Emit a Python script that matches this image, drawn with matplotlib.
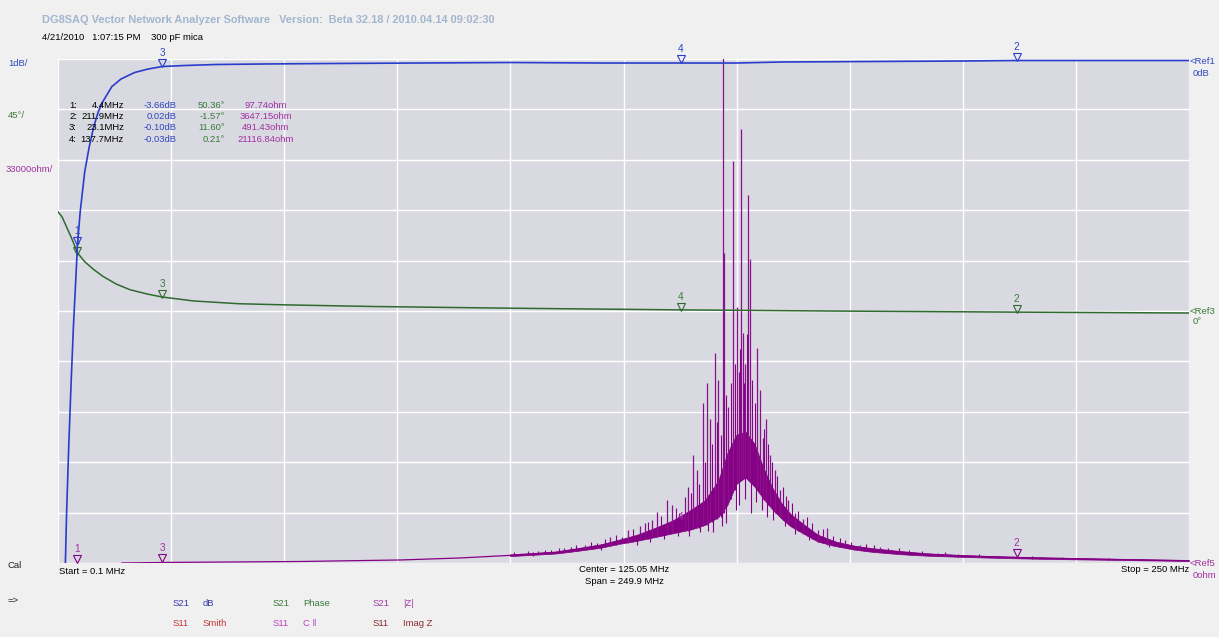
import numpy as np
import matplotlib
matplotlib.use("Agg")
import matplotlib.pyplot as plt
from matplotlib.transforms import offset_copy

plt.rcParams['font.family'] = ['Liberation Sans', 'DejaVu Sans']

# ---------------- data ----------------
# S21 magnitude (dB)
db_freq = [1.65, 2.0, 2.5, 3.0, 3.5, 4.0, 4.4, 5.0, 5.5, 6.0, 7.0, 8.0, 9.0, 10.0, 12.0, 14.0,
           17.0, 20.0, 23.1, 28.0, 35.0, 45.0, 60.0, 80.0, 100.0, 120.0, 137.7, 150.0, 160.0,
           180.0, 200.0, 211.9, 230.0, 250.0]
db_val = [-10.3, -9.0, -7.6, -6.4, -5.3, -4.4, -3.66, -3.0, -2.6, -2.2, -1.7, -1.3, -1.0, -0.8,
          -0.5, -0.35, -0.22, -0.15, -0.10, -0.08, -0.06, -0.05, -0.04, -0.03, -0.02, -0.03,
          -0.03, -0.03, -0.01, 0.0, 0.01, 0.02, 0.02, 0.02]

# S21 phase (deg)
ph_freq = [0.1, 1.0, 2.0, 3.0, 4.4, 6.0, 8.0, 10.0, 13.0, 16.0, 20.0, 23.1, 30.0, 40.0, 50.0,
           70.0, 100.0, 137.7, 170.0, 211.9, 250.0]
ph_val = [88.5, 84.0, 75.0, 66.0, 52.0, 44.0, 37.0, 31.0, 24.0, 19.0, 15.0, 12.5, 9.0, 6.5, 5.5,
          4.0, 2.5, 1.0, 0.0, -1.0, -1.8]

# |Z| centre trace (kOhm)
z_freq = [14.2, 25, 38, 54, 76, 89, 100, 110, 120, 128, 136, 142, 146, 148, 150, 152, 154, 156,
          158, 160, 164, 168, 172, 180, 190, 200, 211.9, 220, 230, 240, 250]
z_kohm = [0.0, 0.4, 0.65, 1.0, 2.0, 3.3, 5.0, 7.0, 11.5, 17, 24, 30, 42, 58, 70, 72, 66, 54,
          44, 36, 25, 17, 13, 8.8, 6.0, 4.6, 3.65, 3.1, 2.5, 2.0, 1.5]

# |Z| dense noise band envelope (kOhm)
band_freq = [100, 110, 115, 120, 124, 128, 132, 136, 140, 143, 146, 148, 150, 152, 154, 156,
             158, 160, 162, 165, 168, 172, 176, 180, 186, 192, 200, 210, 220, 235, 250]
band_lo = [4.5, 6.2, 8.0, 10.0, 12.5, 14.5, 17, 19.5, 22, 25, 30, 38, 52, 56, 50, 42, 35, 29,
           24, 19, 14, 11, 8.8, 7.3, 5.8, 4.8, 4.0, 3.2, 2.6, 2.0, 1.3]
band_hi = [5.6, 7.4, 9.6, 12.2, 15.2, 18.5, 23, 28, 35, 41, 54, 72, 84, 86, 78, 62, 49, 39, 32,
           25, 18.5, 14, 11.3, 9.7, 7.9, 6.4, 5.2, 4.2, 3.5, 2.7, 1.9]

# tall |Z| spikes (kOhm): frequency, bottom, top
spike_freq = [105.0, 112.0, 116.5, 122.1, 126.1, 128.7, 129.8, 131.3, 132.4, 134.7, 135.8,
              138.6, 139.3, 140.4, 141.3, 142.6, 143.5, 144.2, 145.3, 146.0, 147.0, 147.3,
              148.2, 149.2, 150.1, 150.5, 151.0, 151.4, 152.0, 152.6, 153.0, 154.6, 155.2,
              155.9, 156.5, 157.4, 158.5, 159.6, 161.4, 162.9, 164.7, 168.0, 170.0, 174.0,
              177.3, 181.7, 186.0, 196.0]
spike_lo = [4.8, 6.5, 8.5, 11, 13, 15, 16, 17, 17, 19, 19.5, 21, 21, 22, 23, 24, 25, 27, 29,
            30, 33, 33, 40, 48, 52, 54, 55, 56, 56, 55, 54, 50, 46, 42, 40, 37, 33, 30, 26, 22,
            19, 14, 12, 10, 9, 7, 6, 4.5]
spike_hi = [7.0, 9.5, 12.0, 17, 21.6, 24, 26, 28, 33.4, 41.3, 38, 43, 50, 70.7, 61, 105, 118,
            94, 137.5, 120, 335, 203, 102, 263, 167.6, 125, 284, 150.6, 130, 241, 199, 141,
            113, 82, 94, 71, 61, 48, 41, 33, 29, 21.6, 23, 15, 11.8, 10.5, 9.5, 7.0]

# small |Z| noise spikes above the band (kOhm)
fine_freq = [100.8, 102.3, 103.9, 106.2, 107.6, 109.1, 110.7, 113.4, 114.6, 117.8, 119.2, 120.9,
             123.3, 124.8, 127.2, 130.4, 133.3, 136.6, 137.4, 140.0, 141.8, 143.0, 144.6, 145.7,
             146.5, 147.7, 148.7, 149.6, 150.8, 151.7, 152.3, 153.5, 154.1, 156.2, 157.0, 157.8,
             158.9, 160.3, 161.0, 162.2, 163.5, 165.5, 166.6, 169.1, 171.3, 172.8, 175.4, 178.6,
             180.3, 183.4, 188.2, 191.0, 194.5, 199.0, 203.5, 207.8, 215.2, 222.0, 232.0]
fine_lo = [5, 5.3, 5.5, 5.8, 6, 6.2, 6.5, 7.2, 7.8, 9, 9.6, 10.5, 12, 13, 14, 16, 18, 20, 20,
           22, 23, 25, 27, 29, 30, 36, 42, 48, 54, 56, 56, 53, 50, 41, 38, 36, 32, 28, 27, 24,
           21, 18, 16, 13, 11, 10.5, 9, 8, 7.3, 6.7, 5.5, 5, 4.5, 4.0, 3.7, 3.4, 2.9, 2.5, 2.1]
fine_hi = [7.2, 6.8, 8.0, 7.6, 8.8, 8.2, 9.8, 10.5, 11.8, 13.5, 12.8, 15.5, 18.5, 17.2, 22.5,
           27, 31, 36, 33, 46, 52, 66, 78, 92, 84, 110, 118, 130, 140, 118, 150, 120, 105, 88,
           78, 66, 57, 50, 44, 39, 34, 30, 26, 22, 18, 16.5, 14, 12.5, 12, 10, 8.2, 7.8, 6.5,
           6.0, 5.6, 4.9, 4.4, 3.8, 3.3]

# downward excursions below the band (kOhm)
dip_freq = [120.0, 128.0, 131.0, 134.0, 137.0, 139.5, 142.0, 143.8, 144.8, 146.8, 147.8, 149.8,
            150.6, 151.8, 153.2, 154.4, 155.6, 156.8, 158.0, 160.8, 163.0, 166.0, 170.5]
dip_lo = [8.5, 12, 14, 16, 18, 18, 20, 21, 20, 24, 26, 35, 38, 42, 33, 40, 35, 30, 28, 24, 19,
          15, 10.5]
dip_hi = [11, 16, 19, 22, 24, 26, 28, 30, 35, 40, 45, 60, 58, 60, 60, 55, 48, 45, 38, 32, 26,
          20, 14]

# markers
mk_num = ["1", "2", "3", "4"]
mk_freq = [4.4, 211.9, 23.1, 137.7]
mk_db = [-3.66, 0.02, -0.10, -0.03]
mk_ph = [50.36, -1.57, 11.60, 0.21]
mk_ohm = [97.74, 3647.15, 491.43, 21116.84]

# ---------------- style ----------------
BLUE = '#2a3ccc'
GREEN = '#2f6a2f'
PURPLE = '#840084'
BLUE_T = '#3048c0'
GREEN_T = '#3a7a3a'
PURPLE_T = '#a030a0'
FS = 6.8

W, H = 1219, 637
fig = plt.figure(figsize=(W / 100, H / 100), dpi=100, facecolor='#f0f0f0')
L, R, T, B = 58, 1189, 59, 563
ax = fig.add_axes([L / W, 1 - B / H, (R - L) / W, (B - T) / H])
ax.set_facecolor('#d9d9e1')
ax.set_xlim(0.1, 250)
ax.set_ylim(0, 10)
ax.set_xticks(np.linspace(0.1, 250, 11))
ax.set_yticks(np.arange(0, 11, 1))
ax.grid(color='white', lw=1.0)
ax.tick_params(length=0, labelbottom=False, labelleft=False)
for s in ax.spines.values():
    s.set_visible(False)

ax_z = ax.twinx()
ax_z.set_ylim(0, 330)
ax_z.axis('off')
ax_ph = ax.twinx()
ax_ph.set_ylim(-225, 225)
ax_ph.axis('off')
ax_db = ax.twinx()
ax_db.set_ylim(-10, 0.05)
ax_db.axis('off')

ax_z.fill_between(band_freq, band_lo, band_hi, color=PURPLE, lw=0.5)
ax_z.plot(z_freq, z_kohm, color=PURPLE, lw=0.9)
ax_z.vlines(fine_freq, fine_lo, fine_hi, color=PURPLE, lw=0.8)
ax_z.vlines(dip_freq, dip_lo, dip_hi, color=PURPLE, lw=0.8)
ax_z.vlines(spike_freq, spike_lo, spike_hi, color='#8c108c', lw=0.9)
ax_ph.plot(ph_freq, ph_val, color=GREEN, lw=1.1)
ax_db.plot(db_freq, db_val, color=BLUE, lw=1.2)


def marker(a, f, v, num, col, tcol):
    tr = offset_copy(a.transData, fig=fig, x=0, y=4, units='dots')
    a.plot([f], [v], marker='v', ms=5.5, mfc='none', mec=col, mew=0.8, transform=tr,
           clip_on=False, zorder=6)
    a.annotate(num, (f, v), xytext=(0, 9), textcoords='offset pixels', ha='center',
               va='bottom', fontsize=7.2, color=tcol, annotation_clip=False, zorder=6)


for n, f, d, p, z in zip(mk_num, mk_freq, mk_db, mk_ph, mk_ohm):
    marker(ax_z, f, z / 1000.0, n, PURPLE, PURPLE_T)
    marker(ax_ph, f, p, n, GREEN, GREEN_T)
    marker(ax_db, f, d, n, BLUE, BLUE_T)


def ftext(x, y, s, **kw):
    kw.setdefault('va', 'center')
    kw.setdefault('fontsize', FS)
    fig.text(x / W, 1 - y / H, s, **kw)


ftext(42, 20, "DG8SAQ Vector Network Analyzer Software   Version:  Beta 32.18 / 2010.04.14 09:02:30",
      color='#a2b6cf', fontsize=7.9, fontweight='bold')
ftext(42, 38, "4/21/2010   1:07:15 PM    300 pF mica", color='black')

ftext(8, 63, "1dB/", color=BLUE_T)
ftext(8, 116, "45°/", color=GREEN_T)
ftext(6, 170, "33000ohm/", color=PURPLE_T)
ftext(8, 565, "Cal", color='#222222')
ftext(8, 600, "=>", color='#222222')

# marker table
rows_y = [105, 116.5, 128, 139.5]
for yy, n, f, d, p, z in zip(rows_y, mk_num, mk_freq, mk_db, mk_ph, mk_ohm):
    ftext(69, yy, n + ":", color='black')
    ftext(124, yy, f"{f:.1f}MHz", color='black', ha='right')
    ftext(177, yy, f"{d:.2f}dB", color=BLUE_T, ha='right')
    ftext(225, yy, f"{p:.2f}°", color=GREEN_T, ha='right')
    ftext(266, yy, f"{z:.2f}ohm", color=PURPLE_T, ha='center')

# reference labels
ftext(1190, 61, "<Ref1", color=BLUE_T)
ftext(1193, 73, "0dB", color=BLUE_T)
ftext(1190, 311, "<Ref3", color=GREEN_T)
ftext(1193, 322, "0°", color=GREEN_T)
ftext(1190, 563, "<Ref5", color=PURPLE_T)
ftext(1193, 575, "0ohm", color=PURPLE_T)

# frequency labels
ftext(59, 571, "Start = 0.1 MHz", color='black')
ftext(624, 570, "Center = 125.05 MHz", color='black', ha='center')
ftext(624, 582, "Span = 249.9 MHz", color='black', ha='center')
ftext(1189, 570, "Stop = 250 MHz", color='black', ha='right')

# trace legend
leg = [(173, 603, "S21", "dB", '#3a3aa8'), (273, 603, "S21", "Phase", '#3a7a3a'),
       (373, 603, "S21", "|Z|", '#a03ca0'), (173, 624, "S11", "Smith", '#c03838'),
       (273, 624, "S11", "C ‖", '#c040c0'), (373, 624, "S11", "Imag Z", '#8a2a2a')]
for x, y, a, b, c in leg:
    ftext(x, y, a, color=c)
    ftext(x + 30, y, b, color=c)

fig.savefig("out.png", dpi=100, facecolor=fig.get_facecolor())
